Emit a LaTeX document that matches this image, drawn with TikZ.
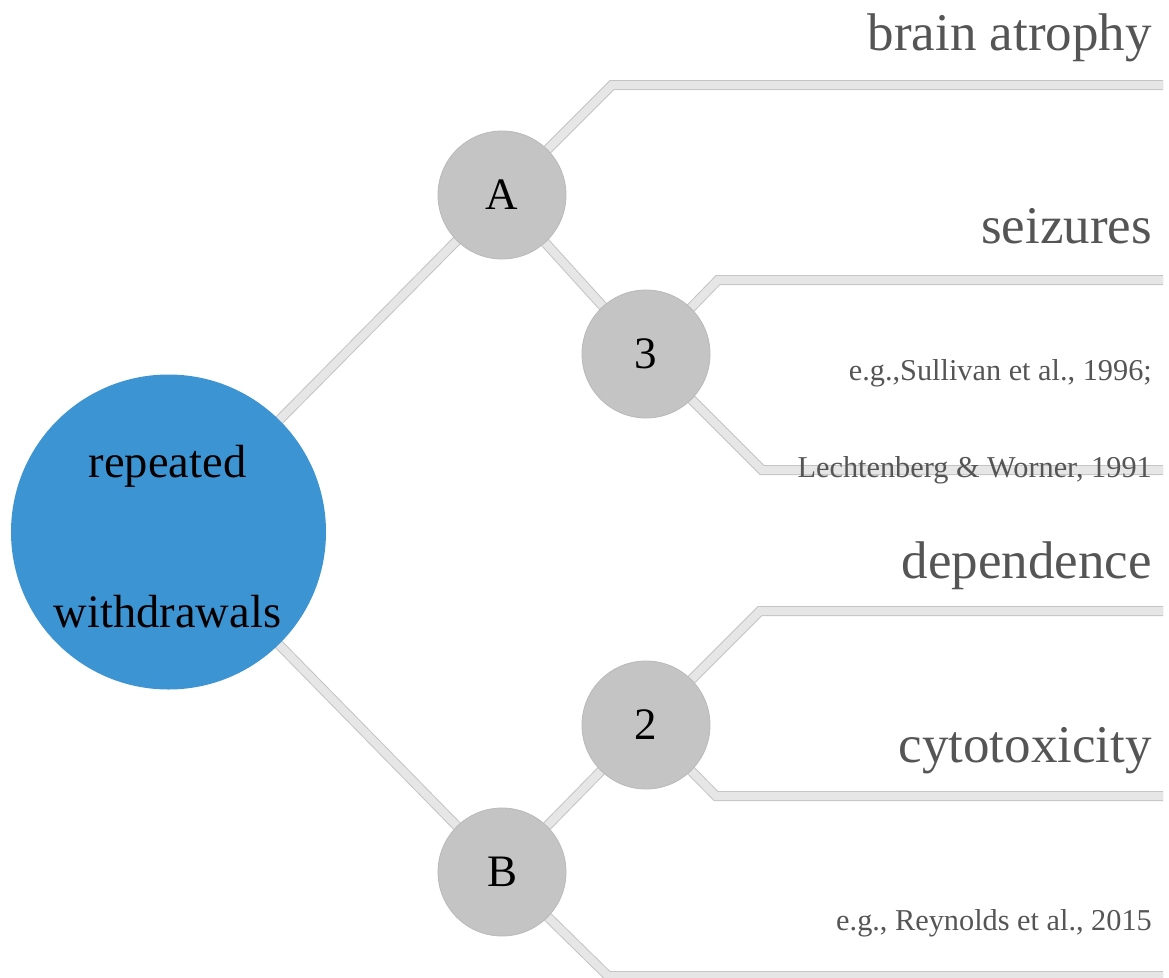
\documentclass[tikz,border=0pt]{standalone}
\usepackage{fontspec}
\setmainfont{Liberation Serif}
\usetikzlibrary{backgrounds}
\definecolor{linebord}{HTML}{C4C4C4}
\definecolor{linefill}{HTML}{E6E6E6}
\definecolor{circgray}{HTML}{C4C4C4}
\definecolor{circedge}{HTML}{B9B9B9}
\definecolor{blueroot}{HTML}{3D94D2}
\definecolor{labgray}{HTML}{555555}
\tikzset{
  conn/.style={draw=linebord, line width=1pt, double=linefill, double distance=8pt, line cap=butt, line join=miter},
  smallcirc/.style={circle, fill=circgray, draw=circedge, line width=0.8pt, minimum size=128pt, inner sep=0pt, text=black, font=\fontsize{45}{54}\selectfont},
  rootcirc/.style={circle, fill=blueroot, minimum size=315pt, inner sep=0pt},
  roottext/.style={inner sep=0pt, text=black, align=center, font=\fontsize{46.5}{150}\selectfont},
  biglab/.style={anchor=base east, inner sep=0pt, text=labgray, font=\fontsize{53}{60}\selectfont},
  reflab/.style={anchor=base east, inner sep=0pt, text=labgray, font=\fontsize{30.3}{34}\selectfont}
}
\begin{document}
\begin{tikzpicture}[x=1pt, y=-1pt]
\useasboundingbox (0,0) rectangle (1169,977);
% nodes
\node[rootcirc] (root) at (168.5,532) {};
\node[roottext] (rootlab) at (167.5,536.5) {repeated\\withdrawals};
\node[smallcirc] (A) at (502,195) {A};
\node[smallcirc] (n3) at (646,354) {3};
\node[smallcirc] (n2) at (646,725) {2};
\node[smallcirc] (B) at (502,872) {B};
% corner and end coordinates
\coordinate (ca) at (612,85);
\coordinate (ea) at (1163,85);
\coordinate (c3u) at (718,280);
\coordinate (e3u) at (1163,280);
\coordinate (c3d) at (762,470);
\coordinate (e3d) at (1163,470);
\coordinate (c2u) at (760,611);
\coordinate (e2u) at (1163,611);
\coordinate (c2d) at (716,796);
\coordinate (e2d) at (1163,796);
\coordinate (cb) at (608,976);
\coordinate (eb) at (1163,976);
% labels
\node[biglab] (lba) at (1152,50) {brain atrophy};
\node[biglab] (lsz) at (1152,243) {seizures};
\node[reflab] (lsu) at (1152,380) {e.g.,Sullivan et al., 1996;};
\node[biglab] (ldp) at (1152,578) {dependence};
\node[biglab] (lct) at (1152,762) {cytotoxicity};
\node[reflab] (lre) at (1152,930) {e.g., Reynolds et al., 2015};
% connectors
\begin{scope}[on background layer]
\draw[conn] (root.center) -- (A.center);
\draw[conn] (root.center) -- (B.center);
\draw[conn] (A.center) -- (n3.center);
\draw[conn] (B.center) -- (n2.center);
\draw[conn] (A.center) -- (ca) -- (ea);
\draw[conn] (n3.center) -- (c3u) -- (e3u);
\draw[conn] (n3.center) -- (c3d) -- (e3d);
\draw[conn] (n2.center) -- (c2u) -- (e2u);
\draw[conn] (n2.center) -- (c2d) -- (e2d);
\draw[conn] (B.center) -- (cb) -- (eb);
\end{scope}
\node[reflab] (lle) at (1152,477) {Lechtenberg \& Worner, 1991};
\end{tikzpicture}
\end{document}
